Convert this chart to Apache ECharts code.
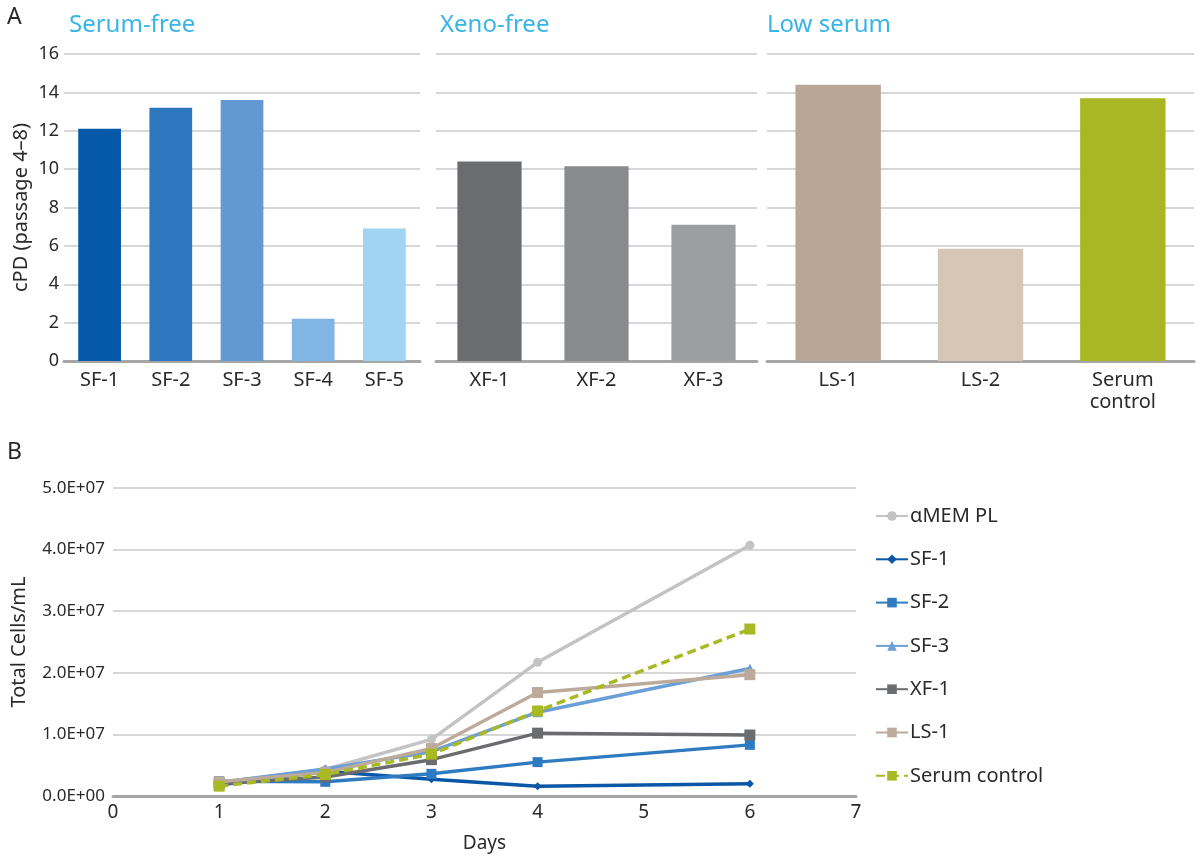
<!DOCTYPE html>
<html>
<head>
<meta charset="utf-8">
<script src="https://cdn.jsdelivr.net/npm/echarts@6/dist/echarts.min.js"></script>
<style>
  html, body { margin: 0; padding: 0; background: #ffffff; }
  #chart { width: 1200px; height: 862px; }
</style>
</head>
<body>
<div id="chart"></div>
<script>
// ---------- Panel A data ----------
const sfCategories = ['SF-1', 'SF-2', 'SF-3', 'SF-4', 'SF-5'];
const sfValues = [12.1, 13.2, 13.6, 2.2, 6.9];
const xfCategories = ['XF-1', 'XF-2', 'XF-3'];
const xfValues = [10.4, 10.15, 7.1];
const lsCategories = ['LS-1', 'LS-2', 'Serum control'];
const lsValues = [14.4, 5.85, 13.7];
const panelTitles = ['Serum-free', 'Xeno-free', 'Low serum'];

// ---------- Panel B data ----------
const days = [1, 2, 3, 4, 6];
const seriesNames = ['\u03b1MEM PL', 'SF-1', 'SF-2', 'SF-3', 'XF-1', 'LS-1', 'Serum control'];
const amemPL   = [2.2e6, 4.3e6, 9.2e6, 21.7e6, 40.7e6];
const sf1Cells = [1.8e6, 4.0e6, 2.7e6, 1.6e6, 2.0e6];
const sf2Cells = [2.4e6, 2.3e6, 3.6e6, 5.5e6, 8.3e6];
const sf3Cells = [2.2e6, 4.4e6, 7.2e6, 13.6e6, 20.7e6];
const xf1Cells = [2.0e6, 3.1e6, 5.9e6, 10.2e6, 9.9e6];
const ls1Cells = [2.3e6, 3.8e6, 7.7e6, 16.8e6, 19.7e6];
const serumCtl = [1.6e6, 3.5e6, 6.8e6, 13.8e6, 27.1e6];

// ---------- styles ----------
const FONT = 'Noto Sans';
const sfColors = ['#0557a8', '#2c77bd', '#6399d3', '#80b5e4', '#a1d3f2'];
const xfColors = ['#6b6c70', '#898a8e', '#9d9ea2'];
const lsColors = ['#b9a697', '#d6c6b6', '#a8b723'];
const lineColors = ['#c3c3c3', '#0a56a7', '#2e7bc2', '#6a9fd8', '#6b6c70', '#bcaa9b', '#a9b924'];
const lineSymbols = ['circle', 'diamond', 'rect', 'triangle', 'rect', 'rect', 'rect'];
const lineSymbolSizes = [9, 8, 10, 10, 11, 11, 11];
const titleColor = '#38b5e6';
const gridColor = '#cacaca';
const axisColor = '#a6a6a6';
const textColor = '#2a2a2a';

const chart = echarts.init(document.getElementById('chart'), null, { renderer: 'canvas' });

const topGrid = { top: 54, height: 307 };
const grids = [
  { left: 64, width: 356, top: topGrid.top, height: topGrid.height },
  { left: 436, width: 321, top: topGrid.top, height: topGrid.height },
  { left: 767, width: 427, top: topGrid.top, height: topGrid.height },
  { left: 113, width: 743, top: 488, height: 308 }
];

function catAxis(gridIndex, cats) {
  return {
    type: 'category', gridIndex: gridIndex, data: cats,
    axisLine: { show: true, lineStyle: { color: axisColor, width: 3 } },
    axisTick: { show: false },
    axisLabel: {
      fontFamily: FONT, fontSize: 20, color: textColor, margin: 8, lineHeight: 22,
      formatter: function (v) { return v.replace(' ', '\n'); }
    }
  };
}
function valAxisTop(gridIndex, showLabels) {
  return {
    type: 'value', gridIndex: gridIndex, min: 0, max: 16, interval: 2,
    axisLine: { show: false }, axisTick: { show: false },
    axisLabel: { show: showLabels, fontFamily: FONT, fontSize: 18, color: textColor, margin: 5 },
    splitLine: { show: true, lineStyle: { color: gridColor, width: 1.5 } },
    name: showLabels ? 'cPD (passage 4\u20138)' : '',
    nameLocation: 'middle', nameRotate: 90, nameGap: 33,
    nameTextStyle: { fontFamily: FONT, fontSize: 20, color: textColor }
  };
}
function barSeries(idx, vals, colors) {
  return {
    type: 'bar', xAxisIndex: idx, yAxisIndex: idx,
    barCategoryGap: '40%',
    data: vals.map(function (v, i) { return { value: v, itemStyle: { color: colors[i] } }; }),
    silent: true
  };
}

function sciFormat(v) {
  if (v === 0) return '0.0E+00';
  const e = Math.floor(Math.log10(v));
  const m = v / Math.pow(10, e);
  return m.toFixed(1) + 'E+' + (e < 10 ? '0' + e : e);
}

const lineData = [amemPL, sf1Cells, sf2Cells, sf3Cells, xf1Cells, ls1Cells, serumCtl];
const lineSeries = lineData.map(function (arr, i) {
  return {
    name: seriesNames[i],
    type: 'line', xAxisIndex: 3, yAxisIndex: 3,
    data: days.map(function (d, j) { return [d, arr[j]]; }),
    symbol: lineSymbols[i], symbolSize: lineSymbolSizes[i], showSymbol: true,
    lineStyle: { color: lineColors[i], width: 3.5, type: i === 6 ? [9, 5] : 'solid' },
    itemStyle: { color: lineColors[i] },
    z: 2 + i
  };
});

const option = {
  backgroundColor: '#ffffff',
  animation: false,
  textStyle: { fontFamily: FONT },
  title: [
    { text: 'A', left: 7, top: 6, padding: 0, textStyle: { fontFamily: FONT, fontSize: 23, fontWeight: 'normal', color: textColor } },
    { text: panelTitles[0], left: 69, top: 13, padding: 0, textStyle: { fontFamily: FONT, fontSize: 24, fontWeight: 'normal', color: titleColor } },
    { text: panelTitles[1], left: 440, top: 13, padding: 0, textStyle: { fontFamily: FONT, fontSize: 24, fontWeight: 'normal', color: titleColor } },
    { text: panelTitles[2], left: 767, top: 13, padding: 0, textStyle: { fontFamily: FONT, fontSize: 24, fontWeight: 'normal', color: titleColor } },
    { text: 'B', left: 7, top: 441, padding: 0, textStyle: { fontFamily: FONT, fontSize: 23, fontWeight: 'normal', color: textColor } }
  ],
  grid: grids,
  xAxis: [
    catAxis(0, sfCategories),
    catAxis(1, xfCategories),
    catAxis(2, lsCategories),
    {
      type: 'value', gridIndex: 3, min: 0, max: 7, interval: 1,
      axisLine: { show: true, onZero: false, lineStyle: { color: axisColor, width: 3 } },
      axisTick: { show: false },
      splitLine: { show: false },
      axisLabel: { fontFamily: FONT, fontSize: 19, color: textColor, margin: 7 },
      name: 'Days', nameLocation: 'middle', nameGap: 38,
      nameTextStyle: { fontFamily: FONT, fontSize: 19, color: textColor }
    }
  ],
  yAxis: [
    valAxisTop(0, true),
    valAxisTop(1, false),
    valAxisTop(2, false),
    {
      type: 'value', gridIndex: 3, min: 0, max: 5e7, interval: 1e7,
      axisLine: { show: false }, axisTick: { show: false },
      axisLabel: { fontFamily: FONT, fontSize: 17, color: textColor, margin: 8, formatter: sciFormat },
      splitLine: { show: true, lineStyle: { color: gridColor, width: 1.5 } },
      name: 'Total Cells/mL', nameLocation: 'middle', nameRotate: 90, nameGap: 84,
      nameTextStyle: { fontFamily: FONT, fontSize: 20, color: textColor }
    }
  ],
  legend: {
    show: true,
    orient: 'vertical',
    left: 870, top: 500,
    itemWidth: 32, itemHeight: 12,
    itemGap: 21.3,
    data: seriesNames,
    textStyle: { fontFamily: FONT, fontSize: 20, color: textColor, lineHeight: 22, padding: [0, 0, 0, -3] },
    selectedMode: false
  },
  series: [
    barSeries(0, sfValues, sfColors),
    barSeries(1, xfValues, xfColors),
    barSeries(2, lsValues, lsColors)
  ].concat(lineSeries)
};

chart.setOption(option);
</script>
</body>
</html>
